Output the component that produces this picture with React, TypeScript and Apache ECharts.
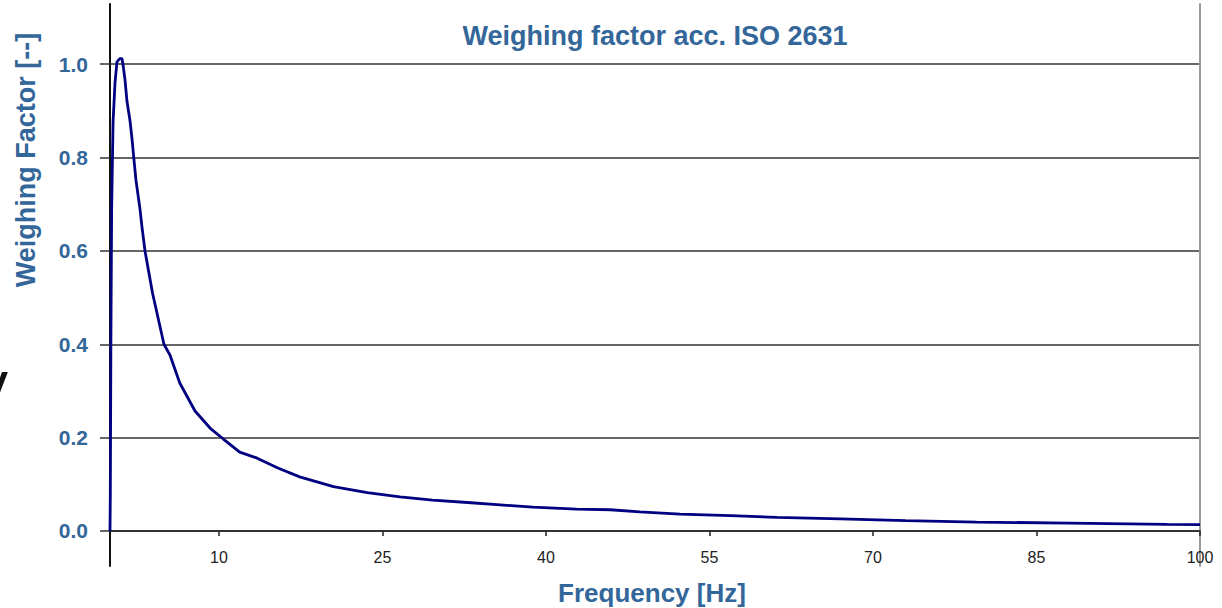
import React, { useEffect, useRef } from "react";
import * as echarts from "echarts";

const freq = [0, 0.03, 0.08, 0.15, 0.28, 0.46, 0.64, 0.9, 1.1, 1.19, 1.38, 1.56, 1.83, 2.02, 2.2, 2.39, 2.57, 2.75, 2.94, 3.21, 3.9, 4.95, 5.5, 6.4, 7.8, 9.2, 10.4, 11.9, 13.5, 15.4, 17.4, 20.5, 23.6, 26.6, 29.6, 32.8, 35.8, 38.8, 42.8, 45.9, 48.6, 52.3, 56.9, 61.2, 67, 73, 79.5, 88, 97, 100];
const weight = [0, 0.08, 0.4, 0.69, 0.876, 0.96, 1.005, 1.012, 1.012, 1.0, 0.966, 0.92, 0.88, 0.84, 0.795, 0.75, 0.72, 0.69, 0.65, 0.6, 0.51, 0.4, 0.377, 0.317, 0.257, 0.22, 0.197, 0.169, 0.156, 0.135, 0.116, 0.095, 0.082, 0.073, 0.066, 0.061, 0.056, 0.051, 0.047, 0.0455, 0.041, 0.036, 0.033, 0.029, 0.026, 0.022, 0.019, 0.017, 0.014, 0.0135];
const xTicks = [10, 25, 40, 55, 70, 85, 100];
const yTicks = [0, 0.2, 0.4, 0.6, 0.8, 1.0];

const BLUE = "#336699";
const FONT = "Arial, 'Liberation Sans', sans-serif";

export default function App() {
  const ref = useRef<HTMLDivElement>(null);
  useEffect(() => {
    if (!ref.current) return;
    const chart = echarts.init(ref.current, null, { renderer: "svg" });
    const data = freq.map((f, i) => [f, weight[i]]);
    chart.setOption({
      animation: false,
      backgroundColor: "#ffffff",
      title: {
        text: "Weighing factor acc. ISO 2631",
        left: 650,
        textAlign: "center",
        top: 17,
        textStyle: { color: BLUE, fontFamily: FONT, fontWeight: "bold", fontSize: 27 },
      },
      grid: { left: 110, right: 22, top: 4, bottom: 42, containLabel: false, outerBoundsMode: "none" },
      xAxis: {
        type: "value",
        min: 0,
        max: 100,
        axisLine: { show: true, onZero: true, lineStyle: { color: "#222", width: 1.5 } },
        axisTick: { show: true, customValues: xTicks, length: 5, lineStyle: { color: "#222", width: 1.5 } },
        axisLabel: { customValues: xTicks, margin: -17, color: "#222", fontFamily: FONT, fontSize: 16 },
        splitLine: { show: false },
      },
      yAxis: [
        {
          type: "value",
          min: -0.075,
          max: 1.129,
          axisLine: { show: true, onZero: false, lineStyle: { color: "#111", width: 2 } },
          axisTick: { show: true, customValues: yTicks, length: 10, inside: false, lineStyle: { color: "#333", width: 1.5 } },
          axisLabel: {
            customValues: yTicks,
            margin: 22,
            color: BLUE,
            fontFamily: FONT,
            fontWeight: "bold",
            fontSize: 21,
            formatter: (v: number) => v.toFixed(1),
          },
          splitLine: { show: true, lineStyle: { color: "#333", width: 1.5 } },
        },
        {
          type: "value",
          position: "right",
          min: -0.075,
          max: 1.129,
          axisLine: { show: true, onZero: false, lineStyle: { color: "#9a9a9a", width: 2 } },
          axisTick: { show: false },
          axisLabel: { show: false },
          splitLine: { show: false },
        },
      ],
      graphic: [
        {
          type: "text",
          left: -24,
          top: 352,
          style: { text: "y", fontSize: 64, fontFamily: FONT, fill: "#111" },
        },
        {
          type: "text",
          x: 26,
          y: 160,
          rotation: Math.PI / 2,
          style: {
            text: "Weighing Factor [--]",
            fontSize: 27,
            fontWeight: "bold",
            fontFamily: FONT,
            fill: BLUE,
            align: "center",
            verticalAlign: "middle",
          },
        },
        {
          type: "text",
          x: 652,
          y: 593,
          style: {
            text: "Frequency [Hz]",
            fontSize: 26,
            fontWeight: "bold",
            fontFamily: FONT,
            fill: BLUE,
            align: "center",
            verticalAlign: "middle",
          },
        },
      ],
      series: [
        {
          type: "line",
          data,
          showSymbol: false,
          symbol: "none",
          lineStyle: { color: "#000080", width: 2.8 },
          yAxisIndex: 0,
        },
      ],
    });
    return () => chart.dispose();
  }, []);
  return <div ref={ref} style={{ position: "fixed", left: 0, top: 0, width: 1222, height: 608 }} />;
}
